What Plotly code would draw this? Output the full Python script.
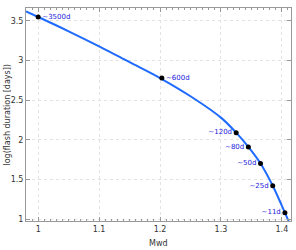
import plotly.graph_objects as go

# fitted curve samples (Mwd, log10 days)
curve_x = [0.980, 1.000, 1.050, 1.100, 1.150, 1.200, 1.250, 1.300, 1.325, 1.345, 1.365, 1.385, 1.405, 1.415]
curve_y = [3.62, 3.55, 3.37, 3.18, 2.98, 2.78, 2.55, 2.28, 2.09, 1.91, 1.70, 1.42, 1.08, 0.90]

# marked points
pt_x = [1.0, 1.203, 1.325, 1.345, 1.365, 1.385, 1.405]
pt_y = [3.55, 2.78, 2.09, 1.91, 1.70, 1.42, 1.08]
pt_labels = ["~3500d", "~600d", "~120d", "~80d", "~50d", "~25d", "~11d"]
pt_pos = ["middle right", "middle right", "middle left", "middle left", "middle left", "middle left", "middle left"]

fig = go.Figure()
fig.add_trace(go.Scatter(x=curve_x, y=curve_y, mode="lines",
                         line=dict(color="#1f6bff", width=2, shape="spline"),
                         hoverinfo="skip"))
fig.add_trace(go.Scatter(x=pt_x, y=pt_y, mode="markers+text", text=pt_labels,
                         textposition=pt_pos,
                         textfont=dict(family="DejaVu Sans", size=7, color="#2222dd"),
                         marker=dict(color="black", size=5)))

axcommon = dict(showline=True, linecolor="#999999", linewidth=1, mirror="ticks",
                ticks="inside", ticklen=4, tickcolor="#999999", automargin=False,
                showgrid=True, gridcolor="#e2e2e2", griddash="dot", gridwidth=1,
                zeroline=False, tickfont=dict(family="DejaVu Sans", size=8, color="#333333"))

fig.update_xaxes(range=[0.980, 1.415], tickvals=[1, 1.1, 1.2, 1.3, 1.4],
                 ticktext=["1", "1.1", "1.2", "1.3", "1.4"],
                 minor=dict(dtick=0.01, ticks="inside", ticklen=2, tickcolor="#999999", showgrid=False),
                 **axcommon)
fig.update_yaxes(range=[0.975, 3.664], tickvals=[1, 1.5, 2, 2.5, 3, 3.5],
                 ticktext=["1", "1.5", "2", "2.5", "3", "3.5"],
                 **axcommon)

tfont = dict(family="DejaVu Sans", size=8, color="#333333")
fig.add_annotation(text="Mwd", xref="paper", yref="paper", x=0.5, y=0, yshift=-22,
                   xanchor="center", yanchor="middle", showarrow=False, font=tfont)
fig.add_annotation(text="log(flash duration [days])", xref="paper", yref="paper", x=0, y=0.5,
                   xshift=-19, textangle=-90, xanchor="center", yanchor="middle",
                   showarrow=False, font=tfont)

fig.update_layout(width=296, height=250, margin=dict(l=26, r=5, t=8, b=29),
                  plot_bgcolor="white", paper_bgcolor="white", showlegend=False,
                  hovermode=False)

fig.write_html("out.html", config={"displayModeBar": False},
               post_script="document.body.style.margin='0';document.body.style.padding='0';")
